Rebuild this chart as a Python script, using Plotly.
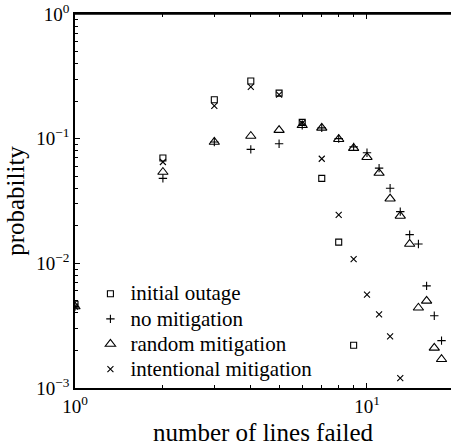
import plotly.graph_objects as go

# data
x_init = [1, 2, 3, 4, 5, 6, 7, 8, 9]
p_init = [0.0047, 0.070, 0.205, 0.290, 0.232, 0.135, 0.048, 0.0148, 0.0022]

x_nomit = [1, 2, 3, 4, 5, 6, 7, 8, 9, 10, 11, 12, 13, 14, 15, 16, 17, 18]
p_nomit = [0.0045, 0.048, 0.094, 0.082, 0.091, 0.128, 0.122, 0.100, 0.086,
           0.077, 0.058, 0.040, 0.026, 0.017, 0.0143, 0.0066, 0.0038, 0.0024]

x_rand = [1, 2, 3, 4, 5, 6, 7, 8, 9, 10, 11, 12, 13, 14, 15, 16, 17, 18]
p_rand = [0.0045, 0.054, 0.094, 0.105, 0.117, 0.128, 0.122, 0.099, 0.084,
          0.071, 0.053, 0.033, 0.024, 0.0143, 0.0044, 0.0050, 0.0021, 0.0017]

x_int = [1, 2, 3, 4, 5, 6, 7, 8, 9, 10, 11, 12, 13]
p_int = [0.0045, 0.065, 0.183, 0.260, 0.226, 0.133, 0.069, 0.0245, 0.0108,
         0.0056, 0.0039, 0.0026, 0.0012]

series_names = ["initial outage", "no mitigation", "random mitigation", "intentional mitigation"]

x_tickvals = [1, 10]
x_ticktext = ["10<sup>0</sup>", "10<sup>1</sup>"]
y_tickvals = [0.001, 0.01, 0.1, 1]
y_ticktext = ["10<sup>\u22123</sup>", "10<sup>\u22122</sup>", "10<sup>\u22121</sup>", "10<sup>0</sup>"]
x_minor = [2, 3, 4, 5, 6, 7, 8, 9, 20]
y_minor = [m * 10.0 ** e for e in (-3, -2, -1) for m in range(2, 10)]

FONT = "Liberation Serif, Times New Roman, serif"
X_RANGE = [0, 1.2877]
LW = 1.6

fig = go.Figure()
series = [
    (series_names[0], x_init, p_init, "square-open", 6),
    (series_names[1], x_nomit, p_nomit, "cross-thin-open", 6),
    (series_names[2], x_rand, p_rand, "triangle-up-open", 9),
    (series_names[3], x_int, p_int, "x-thin-open", 6),
]
for name, xs, ys, sym, sz in series:
    fig.add_trace(go.Scatter(
        x=xs, y=ys, mode="markers",
        name='<span style="font-size:21px">' + name + "</span>",
        marker=dict(symbol=sym, size=sz, color="black",
                    line=dict(color="black", width=1.1)),
    ))

fig.update_layout(
    width=451, height=446,
    margin=dict(l=75, r=0, t=14, b=58),
    paper_bgcolor="white", plot_bgcolor="white",
    font=dict(family=FONT, color="black", size=19),
    showlegend=True,
    legend=dict(x=0.041, y=0.002, xanchor="left", yanchor="bottom",
                bgcolor="rgba(0,0,0,0)", font=dict(size=17, family=FONT),
                itemsizing="trace", tracegroupgap=0),
    xaxis2=dict(
        type="log", range=X_RANGE, overlaying="x", side="top", anchor="y",
        tickmode="array", tickvals=x_tickvals, showticklabels=False,
        ticks="inside", ticklen=5, tickcolor="black",
        minor=dict(tickmode="array", tickvals=x_minor, ticks="inside", ticklen=3, tickcolor="black"),
        showline=True, linecolor="black", linewidth=LW,
        showgrid=False, zeroline=False,
    ),
)
fig.layout.xaxis.update(
    type="log", range=X_RANGE,
    tickmode="array", tickvals=x_tickvals, ticktext=x_ticktext,
    ticks="inside", ticklen=5, tickcolor="black", ticklabeloverflow="allow",
    minor=dict(tickmode="array", tickvals=x_minor, ticks="inside", ticklen=3, tickcolor="black"),
    showline=True, linecolor="black", linewidth=LW, mirror="allticks",
    showgrid=False, zeroline=False,
    tickfont=dict(size=19, family=FONT),
    title=dict(text="number of lines failed", font=dict(size=25, family=FONT), standoff=9),
)
fig.layout.yaxis.update(
    type="log", range=[-3, 0],
    tickmode="array", tickvals=y_tickvals, ticktext=y_ticktext,
    ticks="inside", ticklen=5, tickcolor="black", ticklabeloverflow="allow",
    minor=dict(tickmode="array", tickvals=y_minor, ticks="inside", ticklen=3, tickcolor="black"),
    showline=True, linecolor="black", linewidth=LW, mirror=False,
    showgrid=False, zeroline=False,
    tickfont=dict(size=19, family=FONT),
    title=dict(text="probability", font=dict(size=25, family=FONT), standoff=4),
)
fig.add_shape(type="line", xref="paper", yref="paper", x0=0, x1=1, y0=1, y1=1,
              line=dict(color="black", width=LW), layer="above")

fig.write_html("out.html", config={"displayModeBar": False},
               post_script="document.body.style.margin='0';")
